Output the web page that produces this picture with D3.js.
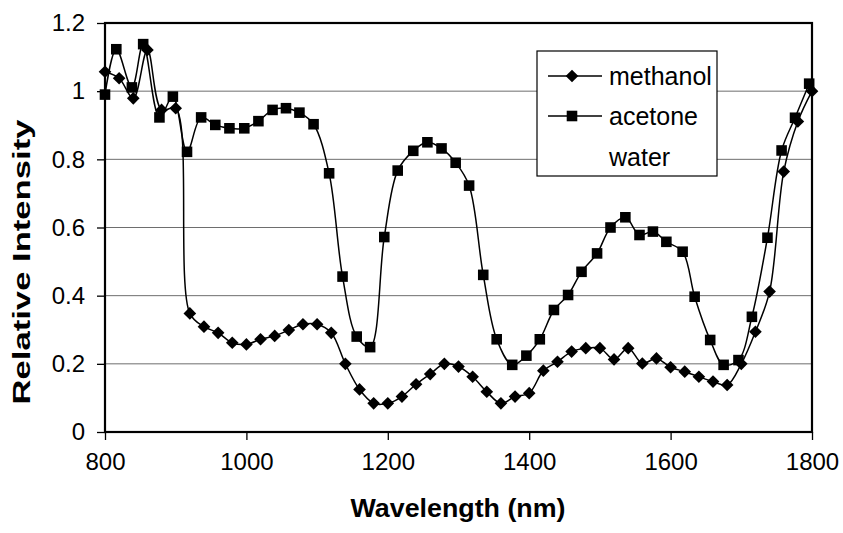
<!DOCTYPE html>
<html>
<head>
<meta charset="utf-8">
<script src="https://cdn.jsdelivr.net/npm/d3@7"></script>
<style>
  body { margin: 0; background: #fff; }
  svg { display: block; font-family: "Liberation Sans", Arial, sans-serif; }
</style>
</head>
<body>
<svg width="843" height="533"></svg>
<script>
// methanol:
const methanolX = [800, 820, 840, 860, 880, 900, 920, 940, 960, 980, 1000, 1020, 1040, 1060, 1080, 1100,
  1120, 1140, 1160, 1180, 1200, 1220, 1240, 1260, 1280, 1300, 1320, 1340, 1360, 1380, 1400, 1420, 1440,
  1460, 1480, 1500, 1520, 1540, 1560, 1580, 1600, 1620, 1640, 1660, 1680, 1700, 1720, 1740, 1760, 1780, 1800];
const methanolY = [1.057, 1.038, 0.979, 1.121, 0.945, 0.950, 0.348, 0.309, 0.291, 0.262, 0.257, 0.272, 0.282,
  0.299, 0.316, 0.316, 0.291, 0.200, 0.125, 0.084, 0.084, 0.104, 0.140, 0.170, 0.200, 0.192, 0.162, 0.118,
  0.084, 0.104, 0.114, 0.180, 0.206, 0.236, 0.246, 0.246, 0.213, 0.246, 0.201, 0.216, 0.190, 0.177, 0.162,
  0.148, 0.138, 0.200, 0.294, 0.412, 0.764, 0.911, 1.000];

// acetone:
const acetoneX = [800, 816, 838, 854, 877, 896, 916, 936, 956, 976, 997, 1017, 1037, 1056, 1075, 1095,
  1117, 1136, 1156, 1175, 1195, 1214, 1236, 1256, 1276, 1296, 1315, 1335, 1354, 1376, 1396, 1415, 1435,
  1455, 1474, 1496, 1515, 1536, 1556, 1575, 1594, 1617, 1634, 1656, 1675, 1696, 1715, 1737, 1757, 1776, 1796];
const acetoneY = [0.990, 1.123, 1.011, 1.138, 0.923, 0.984, 0.822, 0.923, 0.901, 0.891, 0.891, 0.912, 0.945,
  0.950, 0.937, 0.903, 0.759, 0.456, 0.280, 0.249, 0.572, 0.767, 0.825, 0.850, 0.832, 0.790, 0.723, 0.461,
  0.272, 0.197, 0.224, 0.272, 0.358, 0.402, 0.470, 0.524, 0.600, 0.630, 0.578, 0.588, 0.558, 0.529, 0.397,
  0.270, 0.197, 0.211, 0.338, 0.570, 0.826, 0.922, 1.022];

const seriesNames = ["methanol", "acetone", "water"];
const xTicks = [800, 1000, 1200, 1400, 1600, 1800];
const yTicks = [0, 0.2, 0.4, 0.6, 0.8, 1, 1.2];

const svg = d3.select("svg");
const plotLeft = 105, plotRight = 812, plotTop = 23, plotBottom = 432;

const x = d3.scaleLinear().domain([800, 1800]).range([plotLeft, plotRight]);
const y = d3.scaleLinear().domain([0, 1.2]).range([plotBottom, plotTop]);

// gridlines
svg.append("g")
  .selectAll("line")
  .data(yTicks.filter(d => d > 0))
  .enter()
  .append("line")
  .attr("x1", plotLeft).attr("x2", plotRight)
  .attr("y1", d => y(d)).attr("y2", d => y(d))
  .attr("stroke", "#6e6e6e")
  .attr("stroke-width", 1);

// axes
const yAxis = svg.append("g")
  .attr("transform", `translate(${plotLeft},0)`)
  .call(d3.axisLeft(y).tickValues(yTicks).tickSize(8).tickPadding(12).tickFormat(d3.format("")));
const xAxis = svg.append("g")
  .attr("transform", `translate(0,${plotBottom})`)
  .call(d3.axisBottom(x).tickValues(xTicks).tickSize(8).tickPadding(13).tickFormat(d3.format("d")));

[yAxis, xAxis].forEach(g => {
  g.select(".domain").remove();
  g.selectAll("line").attr("stroke", "#000").attr("stroke-width", 1.3);
  g.selectAll("text").attr("font-size", 24).attr("fill", "#000").attr("font-family", null);
});

// plot border
svg.append("rect")
  .attr("x", plotLeft).attr("y", plotTop)
  .attr("width", plotRight - plotLeft).attr("height", plotBottom - plotTop)
  .attr("fill", "none")
  .attr("stroke", "#000")
  .attr("stroke-width", 2.2);

const smooth = d3.line()
  .x(d => x(d[0]))
  .y(d => y(d[1]))
  .curve(d3.curveCatmullRom.alpha(0.5));

const methanol = d3.zip(methanolX, methanolY);
const acetone = d3.zip(acetoneX, acetoneY);

svg.append("path").datum(methanol)
  .attr("d", smooth).attr("fill", "none").attr("stroke", "#000").attr("stroke-width", 1.5);
svg.append("path").datum(acetone)
  .attr("d", smooth).attr("fill", "none").attr("stroke", "#000").attr("stroke-width", 1.5);

const diamond = d3.symbol().type(d3.symbolSquare).size(80);
const square = d3.symbol().type(d3.symbolSquare).size(112);

svg.append("g").selectAll("path")
  .data(methanol)
  .enter()
  .append("path")
  .attr("d", diamond)
  .attr("transform", d => `translate(${x(d[0])},${y(d[1])}) rotate(45)`)
  .attr("fill", "#000");

svg.append("g").selectAll("path")
  .data(acetone)
  .enter()
  .append("path")
  .attr("d", square)
  .attr("transform", d => `translate(${x(d[0])},${y(d[1])})`)
  .attr("fill", "#000");

// legend
const legend = svg.append("g");
legend.append("rect")
  .attr("x", 537).attr("y", 51).attr("width", 180).attr("height", 125)
  .attr("fill", "#fff").attr("stroke", "#000").attr("stroke-width", 1.2);

const rowY = [76, 116, 157];
const symbols = [diamond, square, null];
seriesNames.forEach((name, i) => {
  if (symbols[i]) {
    legend.append("line")
      .attr("x1", 548).attr("x2", 602)
      .attr("y1", rowY[i]).attr("y2", rowY[i])
      .attr("stroke", "#000").attr("stroke-width", 1.3);
    legend.append("path")
      .attr("d", symbols[i])
      .attr("transform", `translate(572,${rowY[i]})` + (i === 0 ? " rotate(45)" : ""))
      .attr("fill", "#000");
  }
  legend.append("text")
    .attr("x", 609).attr("y", rowY[i])
    .attr("dy", "0.35em")
    .attr("font-size", 25)
    .text(name);
});

// axis titles
svg.append("text")
  .attr("x", 458).attr("y", 517)
  .attr("text-anchor", "middle")
  .attr("font-size", 25)
  .attr("font-weight", "bold")
  .attr("textLength", 215)
  .attr("lengthAdjust", "spacingAndGlyphs")
  .text("Wavelength (nm)");

svg.append("text")
  .attr("transform", "translate(30,262) rotate(-90)")
  .attr("text-anchor", "middle")
  .attr("font-size", 24)
  .attr("font-weight", "bold")
  .attr("textLength", 285)
  .attr("lengthAdjust", "spacingAndGlyphs")
  .text("Relative Intensity");
</script>
</body>
</html>
